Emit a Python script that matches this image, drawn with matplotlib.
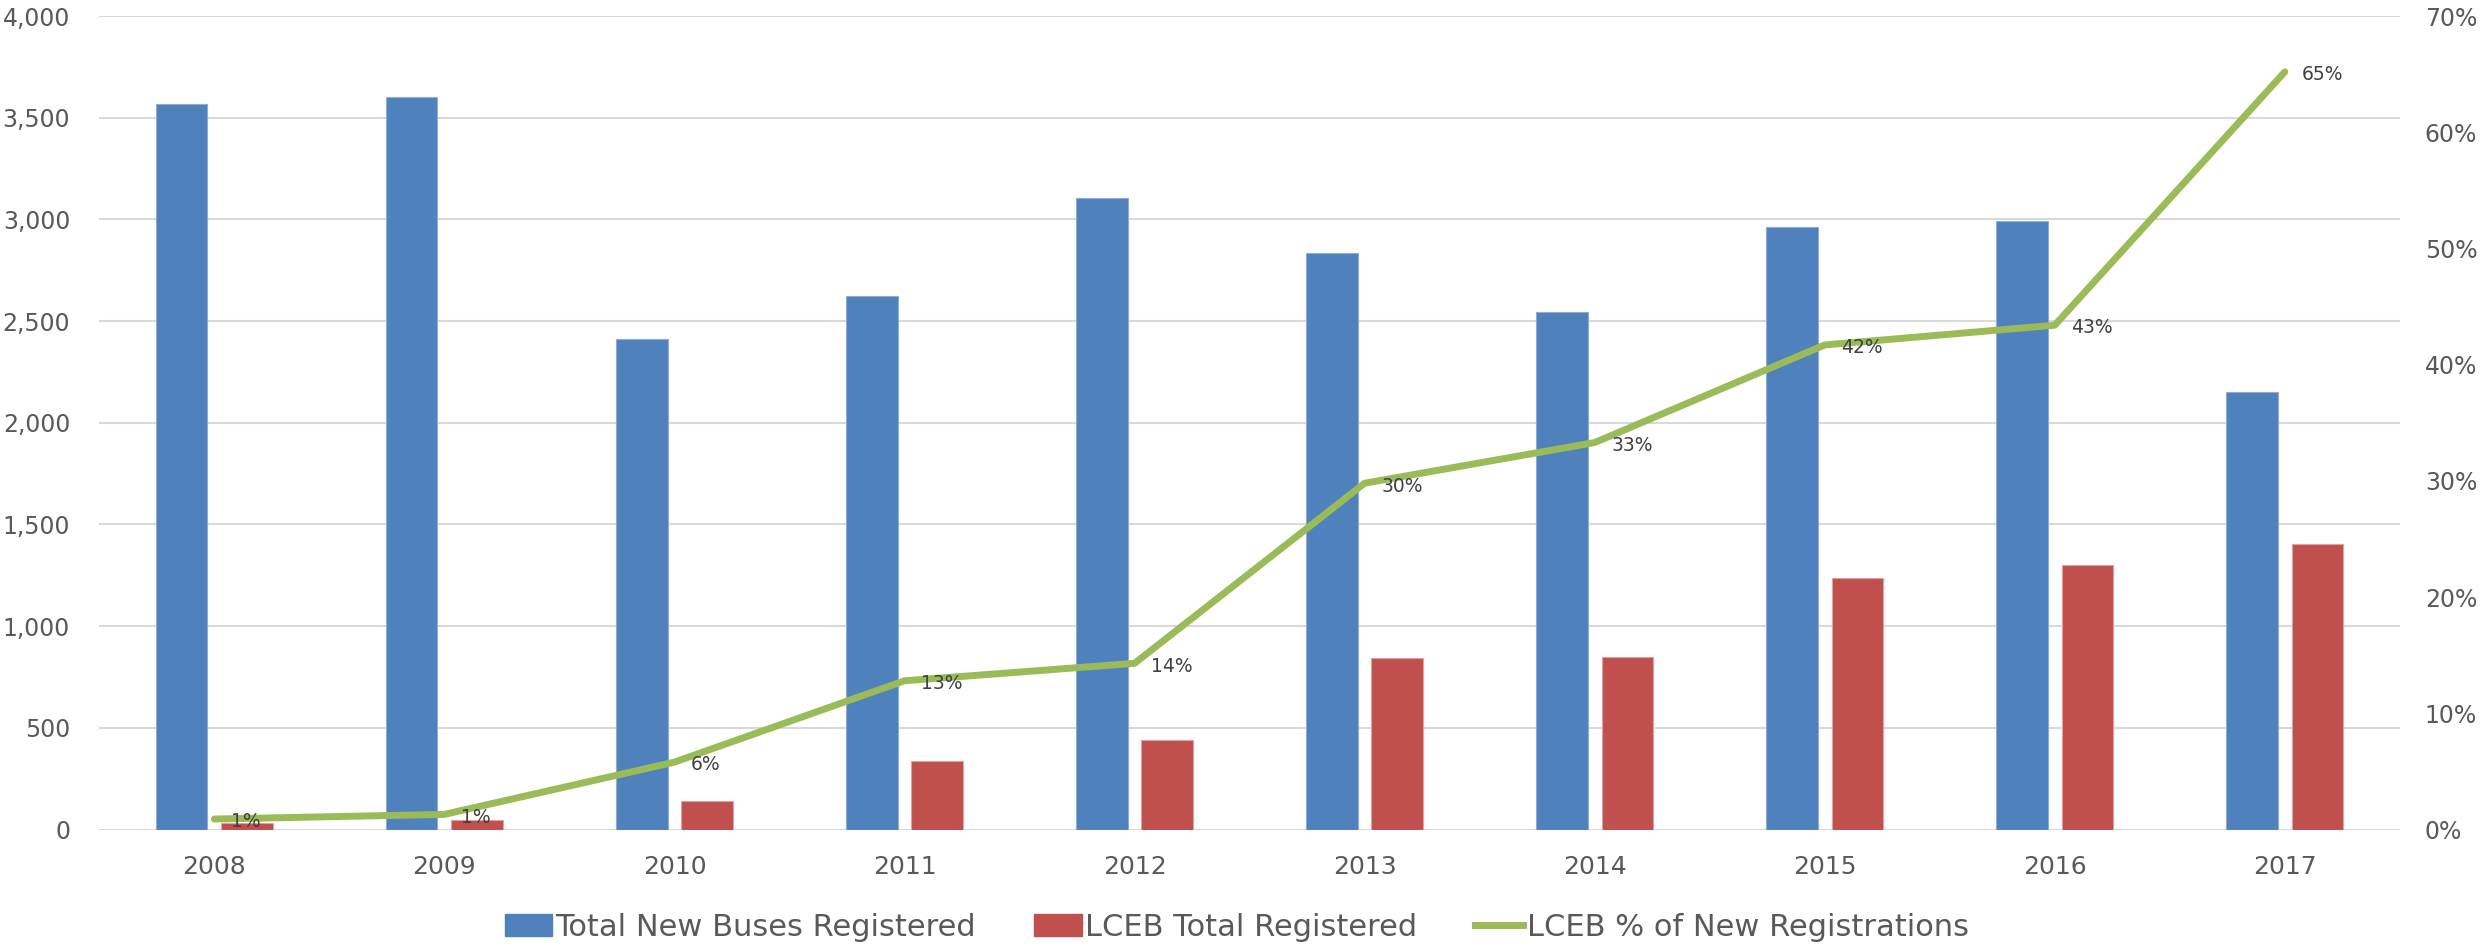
import matplotlib
matplotlib.use("Agg")
import matplotlib.pyplot as plt
import numpy as np
from matplotlib.patches import Patch
from matplotlib.lines import Line2D

# data
years = ["2008", "2009", "2010", "2011", "2012", "2013", "2014", "2015", "2016", "2017"]
total_new = [3570, 3600, 2410, 2625, 3105, 2835, 2545, 2965, 2990, 2150]
lceb_total = [31, 46, 138, 335, 442, 844, 849, 1236, 1299, 1404]
lceb_pct = [0.9, 1.3, 5.8, 12.8, 14.3, 29.8, 33.3, 41.7, 43.4, 65.2]
pct_labels = ["1%", "1%", "6%", "13%", "14%", "30%", "33%", "42%", "43%", "65%"]

BLUE = "#4F81BD"
RED = "#C0504D"
GREEN = "#9BBB59"
GRID = "#D9D9D9"
TXT = "#595959"

fig = plt.figure(figsize=(24.83, 9.48), dpi=100)
ax = fig.add_axes([0.040, 0.125, 0.9265, 0.858])
ax2 = ax.twinx()

x = np.arange(len(years))
w = 0.224
off = 0.142
ax.bar(x - off, total_new, width=w, color=BLUE, edgecolor="#8EACD6", linewidth=0.8, zorder=2)
ax.bar(x + off, lceb_total, width=w, color=RED, edgecolor="#E0A09E", linewidth=0.8, zorder=2)

ax.set_xlim(-0.5, len(years) - 0.5)
ax.set_ylim(0, 4000)
ax.set_yticks(np.arange(0, 4001, 500))
ax.set_yticklabels([f"{v:,}" for v in range(0, 4001, 500)])
ax.set_xticks(x)
ax.set_xticklabels(years)
ax.grid(axis="y", color=GRID, linewidth=1.5, zorder=0)
ax.set_axisbelow(True)
ax.tick_params(axis="y", length=0, labelsize=17, labelcolor=TXT, pad=21)
ax.tick_params(axis="x", length=0, labelsize=18, labelcolor=TXT, pad=18)
for s in ["top", "right", "left", "bottom"]:
    ax.spines[s].set_visible(False)

ax2.plot(x, lceb_pct, color=GREEN, linewidth=5, solid_capstyle="round", zorder=3)
for xi, yi, lab in zip(x, lceb_pct, pct_labels):
    ax2.annotate(lab, (xi, yi), xytext=(12, -2), textcoords="offset points",
                 ha="left", va="center", fontsize=13.5, color="#404040")
ax2.set_ylim(0, 70)
ax2.set_yticks(np.arange(0, 71, 10))
ax2.set_yticklabels([f"{v}%" for v in range(0, 71, 10)])
ax2.tick_params(axis="y", length=0, labelsize=17, labelcolor=TXT, pad=18)
for s in ["top", "right", "left", "bottom"]:
    ax2.spines[s].set_visible(False)

handles = [
    Patch(facecolor=BLUE, edgecolor=BLUE, label="Total New Buses Registered"),
    Patch(facecolor=RED, edgecolor=RED, label="LCEB Total Registered"),
    Line2D([0], [0], color=GREEN, linewidth=5, label="LCEB % of New Registrations"),
]
fig.legend(handles=handles, loc="center", bbox_to_anchor=(0.498, 0.022), ncol=3,
           frameon=False, fontsize=22, labelcolor=TXT, handlelength=1.55,
           handleheight=0.7, handletextpad=0.12, columnspacing=1.9)

fig.savefig("out.png", dpi=100)
